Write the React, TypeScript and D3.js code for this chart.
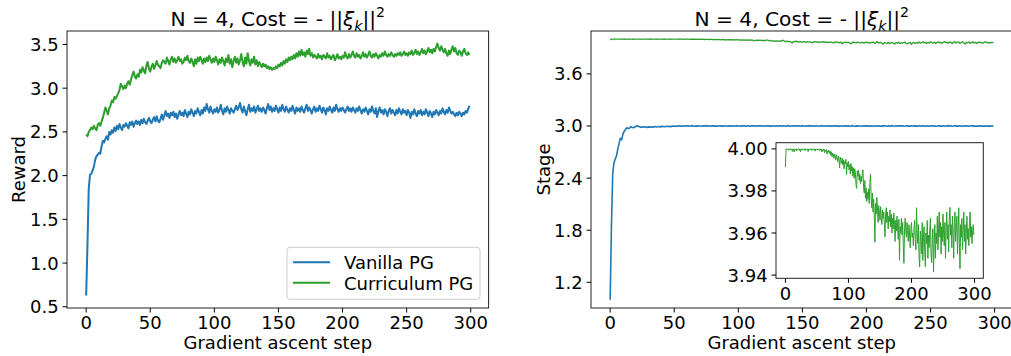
import React from "react";
import * as d3 from "d3";

// ---------------- DATA ----------------
const vanillaReward = [
  0.63, 1.20, 1.85, 2.01, 2.02, 2.06, 2.10, 2.18, 2.22, 2.24,
  2.26, 2.25, 2.33, 2.40, 2.38, 2.42, 2.45, 2.41, 2.50, 2.47,
  2.52, 2.49, 2.55, 2.51, 2.57, 2.53, 2.59, 2.55, 2.52, 2.58,
  2.56, 2.60, 2.57, 2.54, 2.61, 2.58, 2.62, 2.56, 2.60, 2.63,
  2.59, 2.62, 2.58, 2.64, 2.60, 2.65, 2.61, 2.59, 2.63, 2.66,
  2.62, 2.60, 2.64, 2.67, 2.62, 2.68, 2.63, 2.61, 2.65, 2.70,
  2.64, 2.69, 2.74, 2.68, 2.71, 2.66, 2.72, 2.69, 2.73, 2.67,
  2.71, 2.65, 2.70, 2.74, 2.69, 2.72, 2.68, 2.75, 2.71, 2.67,
  2.73, 2.70, 2.76, 2.72, 2.68, 2.74, 2.71, 2.77, 2.73, 2.69,
  2.75, 2.71, 2.78, 2.74, 2.82, 2.76, 2.72, 2.79, 2.74, 2.71,
  2.76, 2.73, 2.78, 2.72, 2.75, 2.81, 2.74, 2.70, 2.77, 2.73,
  2.79, 2.75, 2.71, 2.77, 2.74, 2.72, 2.76, 2.80, 2.75, 2.78,
  2.83, 2.76, 2.72, 2.79, 2.74, 2.69, 2.76, 2.81, 2.73, 2.77,
  2.74, 2.79, 2.72, 2.76, 2.80, 2.74, 2.77, 2.73, 2.78, 2.75,
  2.71, 2.77, 2.82, 2.75, 2.79, 2.73, 2.77, 2.74, 2.80, 2.76,
  2.72, 2.78, 2.74, 2.81, 2.76, 2.73, 2.79, 2.75, 2.72, 2.77,
  2.74, 2.80, 2.75, 2.71, 2.78, 2.74, 2.77, 2.73, 2.79, 2.75,
  2.72, 2.77, 2.81, 2.74, 2.78, 2.75, 2.71, 2.76, 2.79, 2.73,
  2.77, 2.74, 2.80, 2.76, 2.72, 2.78, 2.75, 2.70, 2.77, 2.74,
  2.79, 2.75, 2.72, 2.78, 2.74, 2.81, 2.76, 2.73, 2.77, 2.74,
  2.78, 2.75, 2.72, 2.76, 2.79, 2.74, 2.77, 2.73, 2.78, 2.75,
  2.72, 2.77, 2.74, 2.79, 2.75, 2.71, 2.76, 2.73, 2.78, 2.74,
  2.70, 2.76, 2.73, 2.79, 2.74, 2.71, 2.77, 2.67, 2.74, 2.78,
  2.72, 2.75, 2.70, 2.76, 2.73, 2.68, 2.74, 2.77, 2.71, 2.75,
  2.72, 2.69, 2.75, 2.71, 2.77, 2.73, 2.70, 2.76, 2.72, 2.74,
  2.69, 2.75, 2.72, 2.66, 2.73, 2.70, 2.76, 2.71, 2.68, 2.74,
  2.71, 2.75, 2.69, 2.73, 2.70, 2.76, 2.72, 2.68, 2.74, 2.71,
  2.67, 2.73, 2.70, 2.75, 2.72, 2.69, 2.74, 2.71, 2.77, 2.73,
  2.70, 2.75, 2.72, 2.78, 2.74, 2.71, 2.73, 2.70, 2.68, 2.72,
  2.69, 2.73, 2.71, 2.68, 2.72, 2.70, 2.74, 2.72, 2.76, 2.80,
];

const curriculumReward = [
  2.47, 2.45, 2.50, 2.52, 2.55, 2.53, 2.57, 2.54, 2.52, 2.58,
  2.60, 2.57, 2.62, 2.66, 2.72, 2.78, 2.74, 2.70, 2.77, 2.80,
  2.86, 2.84, 2.90, 2.88, 2.91, 2.94, 2.98, 3.05, 3.02, 2.99,
  3.03, 3.00, 3.05, 3.08, 3.04, 3.10, 3.15, 3.19, 3.13, 3.11,
  3.16, 3.13, 3.21, 3.18, 3.24, 3.20, 3.17, 3.26, 3.30, 3.22,
  3.19, 3.25, 3.28, 3.22, 3.26, 3.31, 3.27, 3.25, 3.23, 3.29,
  3.32, 3.30, 3.28, 3.35, 3.31, 3.27, 3.33, 3.36, 3.30, 3.34,
  3.29, 3.32, 3.36, 3.31, 3.33, 3.28, 3.30, 3.35, 3.32, 3.37,
  3.31, 3.29, 3.34, 3.30, 3.25, 3.33, 3.28, 3.35, 3.31, 3.36,
  3.32, 3.28, 3.34, 3.30, 3.35, 3.31, 3.37, 3.33, 3.29, 3.34,
  3.30, 3.36, 3.32, 3.27, 3.33, 3.29, 3.35, 3.31, 3.26, 3.34,
  3.30, 3.38, 3.28, 3.33, 3.24, 3.31, 3.36, 3.29, 3.34, 3.27,
  3.32, 3.39, 3.30, 3.25, 3.35, 3.28, 3.40, 3.31, 3.26, 3.33,
  3.29, 3.36, 3.27, 3.32, 3.25, 3.30, 3.27, 3.24, 3.28, 3.25,
  3.27, 3.23, 3.25, 3.22, 3.24, 3.21, 3.23, 3.22, 3.25, 3.23,
  3.27, 3.25, 3.29, 3.26, 3.31, 3.28, 3.33, 3.30, 3.35, 3.32,
  3.36, 3.33, 3.38, 3.34, 3.40, 3.36, 3.42, 3.37, 3.44, 3.38,
  3.41, 3.36, 3.43, 3.39, 3.45, 3.37, 3.40, 3.35, 3.38, 3.36,
  3.34, 3.39, 3.35, 3.37, 3.33, 3.38, 3.36, 3.34, 3.40, 3.35,
  3.37, 3.33, 3.36, 3.38, 3.32, 3.35, 3.39, 3.34, 3.36, 3.33,
  3.37, 3.35, 3.41, 3.36, 3.34, 3.39, 3.35, 3.38, 3.42, 3.37,
  3.35, 3.40, 3.36, 3.38, 3.34, 3.37, 3.41, 3.36, 3.39, 3.35,
  3.38, 3.42, 3.37, 3.35, 3.39, 3.36, 3.40, 3.37, 3.34, 3.38,
  3.36, 3.40, 3.37, 3.42, 3.38, 3.36, 3.39, 3.37, 3.41, 3.38,
  3.36, 3.39, 3.37, 3.40, 3.38, 3.41, 3.37, 3.39, 3.42, 3.38,
  3.40, 3.37, 3.41, 3.39, 3.43, 3.38, 3.40, 3.44, 3.39, 3.42,
  3.38, 3.41, 3.45, 3.40, 3.43, 3.39, 3.42, 3.46, 3.41, 3.44,
  3.40, 3.45, 3.42, 3.47, 3.51, 3.46, 3.43, 3.48, 3.44, 3.41,
  3.45, 3.40, 3.37, 3.43, 3.39, 3.44, 3.48, 3.42, 3.46, 3.40,
  3.38, 3.43, 3.41, 3.37, 3.42, 3.45, 3.40, 3.38, 3.41, 3.38,
];

const vanillaStage = [
  1.00, 1.85, 2.45, 2.58, 2.62, 2.66, 2.74, 2.80, 2.86, 2.84,
  2.91, 2.94, 2.96, 2.98, 2.97, 2.975, 2.99, 2.985, 2.98, 2.985,
  2.995, 3.002, 2.996, 2.99, 2.986, 2.99, 2.985, 2.99, 2.988, 2.984,
  2.99, 2.987, 2.992, 2.986, 2.99, 2.993, 2.988, 2.991, 2.995, 2.99,
  2.993, 2.996, 2.992, 2.995, 2.998, 2.994, 2.997, 2.993, 2.996, 2.999,
  2.997, 3.000, 2.996, 2.999, 3.002, 2.998, 3.001, 2.997, 3.000, 3.003,
  2.999, 3.002, 2.998, 3.001, 3.004, 3.000, 2.997, 3.001, 2.999, 3.003,
  3.000, 2.998, 3.002, 2.999, 3.001, 3.004, 2.999, 3.002, 2.998, 3.001,
  3.003, 2.999, 3.001, 2.998, 3.002, 3.000, 3.004, 2.999, 3.001, 2.997,
  3.002, 3.000, 2.998, 3.003, 3.001, 2.999, 3.002, 2.998, 3.001, 3.004,
  3.000, 2.998, 3.002, 2.999, 3.003, 3.001, 2.998, 3.002, 3.000, 2.997,
  3.001, 3.004, 2.999, 3.002, 2.998, 3.001, 3.003, 2.999, 3.002, 3.000,
  2.998, 3.002, 3.000, 3.004, 2.999, 3.001, 2.998, 3.003, 3.000, 2.999,
  3.002, 2.998, 3.001, 3.003, 2.999, 3.002, 3.000, 2.997, 3.001, 3.004,
  3.000, 2.998, 3.002, 2.999, 3.001, 3.003, 2.999, 3.002, 2.998, 3.001,
  3.003, 3.000, 2.998, 3.002, 2.999, 3.004, 3.001, 2.998, 3.002, 3.000,
  2.999, 3.003, 3.000, 2.998, 3.001, 3.004, 2.999, 3.002, 2.998, 3.001,
  3.003, 2.999, 3.001, 2.997, 3.002, 3.000, 3.003, 2.999, 3.001, 2.998,
  3.002, 3.000, 2.998, 3.003, 3.001, 2.999, 3.002, 2.998, 3.001, 3.004,
  3.000, 2.997, 3.001, 2.999, 3.003, 3.000, 2.998, 3.002, 2.999, 3.001,
  3.003, 2.999, 3.001, 2.998, 3.002, 3.000, 2.997, 3.001, 3.003, 2.999,
  3.002, 2.998, 3.001, 2.999, 3.003, 3.000, 2.998, 3.002, 2.999, 3.001,
  3.004, 3.000, 2.998, 3.002, 2.999, 3.001, 3.003, 2.999, 3.002, 2.998,
  3.000, 3.003, 2.999, 3.001, 2.997, 3.002, 3.000, 3.003, 2.999, 3.001,
  2.998, 3.002, 3.000, 2.999, 3.003, 3.001, 2.998, 3.002, 3.000, 2.997,
  3.001, 3.003, 2.999, 3.002, 2.998, 3.000, 3.003, 2.999, 3.001, 2.998,
  3.002, 3.000, 2.997, 3.001, 3.004, 2.999, 3.002, 2.998, 3.000, 3.003,
  2.999, 3.001, 2.998, 3.002, 3.000, 2.997, 3.001, 3.003, 2.999, 3.002,
  2.998, 3.000, 3.002, 2.999, 3.001, 2.997, 3.000, 2.998, 3.002, 2.999,
  3.001, 2.998, 3.000, 2.997, 3.002, 2.999, 3.001, 2.998, 3.003, 3.001,
];

const curriculumStage = [
  3.9914, 4.0000, 4.0000, 3.9996, 4.0000, 3.9993, 4.0000, 3.9998, 4.0000, 3.9995,
  4.0000, 3.9988, 4.0000, 3.9997, 3.9985, 4.0000, 3.9996, 4.0000, 3.9990, 4.0000,
  3.9997, 4.0000, 3.9993, 4.0000, 3.9986, 3.9999, 4.0000, 3.9994, 4.0000, 3.9997,
  4.0000, 3.9991, 4.0000, 3.9996, 4.0000, 3.9998, 3.9987, 4.0000, 3.9995, 4.0000,
  3.9998, 4.0000, 3.9992, 4.0000, 3.9996, 4.0000, 3.9999, 3.9989, 4.0000, 3.9997,
  4.0000, 3.9994, 4.0000, 3.9998, 3.9990, 4.0000, 3.9996, 4.0000, 3.9985, 3.9997,
  3.9993, 3.9999, 3.9982, 3.9995, 3.9988, 3.9997, 3.9975, 3.9990, 3.9984, 3.9994,
  3.9978, 3.9989, 3.9970, 3.9986, 3.9962, 3.9980, 3.9972, 3.9955, 3.9976, 3.9966,
  3.9948, 3.9972, 3.9958, 3.9940, 3.9965, 3.9952, 3.9910, 3.9960, 3.9945, 3.9930,
  3.9956, 3.9925, 3.9948, 3.9905, 3.9940, 3.9930, 3.9950, 3.9878, 3.9935, 3.9915,
  3.9940, 3.9900, 3.9925, 3.9880, 3.9930, 3.9895, 3.9915, 3.9870, 3.9910, 3.9860,
  3.9905, 3.9885, 3.9830, 3.9812, 3.9895, 3.9870, 3.9900, 3.9850, 3.9880, 3.9835,
  3.9870, 3.9845, 3.9880, 3.9900, 3.9820, 3.9790, 3.9850, 3.9765, 3.9815, 3.9750,
  3.9795, 3.9760, 3.9810, 3.9740, 3.9835, 3.9880, 3.9770, 3.9720, 3.9790, 3.9700,
  3.9760, 3.9680, 3.9556, 3.9740, 3.9690, 3.9770, 3.9720, 3.9650, 3.9730, 3.9700,
  3.9660, 3.9725, 3.9680, 3.9640, 3.9710, 3.9670, 3.9700, 3.9640, 3.9582, 3.9690,
  3.9720, 3.9650, 3.9700, 3.9620, 3.9680, 3.9655, 3.9710, 3.9630, 3.9690, 3.9600,
  3.9670, 3.9620, 3.9695, 3.9640, 3.9560, 3.9660, 3.9610, 3.9680, 3.9625, 3.9570,
  3.9665, 3.9470, 3.9630, 3.9600, 3.9670, 3.9590, 3.9650, 3.9540, 3.9456, 3.9620,
  3.9670, 3.9610, 3.9580, 3.9650, 3.9600, 3.9560, 3.9640, 3.9590, 3.9530, 3.9620,
  3.9650, 3.9580, 3.9600, 3.9540, 3.9620, 3.9660, 3.9570, 3.9520, 3.9720, 3.9600,
  3.9550, 3.9640, 3.9490, 3.9438, 3.9610, 3.9560, 3.9500, 3.9650, 3.9470, 3.9580,
  3.9630, 3.9520, 3.9440, 3.9600, 3.9550, 3.9660, 3.9480, 3.9590, 3.9530, 3.9610,
  3.9670, 3.9500, 3.9460, 3.9570, 3.9620, 3.9414, 3.9550, 3.9640, 3.9480, 3.9600,
  3.9550, 3.9680, 3.9520, 3.9620, 3.9700, 3.9580, 3.9650, 3.9500, 3.9630, 3.9560,
  3.9690, 3.9600, 3.9540, 3.9650, 3.9480, 3.9620, 3.9700, 3.9570, 3.9640, 3.9510,
  3.9660, 3.9722, 3.9590, 3.9640, 3.9530, 3.9680, 3.9600, 3.9480, 3.9650, 3.9700,
  3.9560, 3.9620, 3.9680, 3.9500, 3.9610, 3.9720, 3.9550, 3.9430, 3.9640, 3.9580,
  3.9670, 3.9520, 3.9610, 3.9700, 3.9560, 3.9640, 3.9500, 3.9600, 3.9680, 3.9570,
  3.9620, 3.9540, 3.9650, 3.9700, 3.9580, 3.9630, 3.9550, 3.9610, 3.9640, 3.9590,
];

const stepTicks = [0, 50, 100, 150, 200, 250, 300];
const rewardTicks = [0.5, 1.0, 1.5, 2.0, 2.5, 3.0, 3.5];
const rewardTickLabels = ["0.5", "1.0", "1.5", "2.0", "2.5", "3.0", "3.5"];
const stageTicks = [1.2, 1.8, 2.4, 3.0, 3.6];
const stageTickLabels = ["1.2", "1.8", "2.4", "3.0", "3.6"];
const insetXTicks = [0, 100, 200, 300];
const insetYTicks = [3.94, 3.96, 3.98, 4.0];
const insetYTickLabels = ["3.94", "3.96", "3.98", "4.00"];
const seriesNames = ["Vanilla PG", "Curriculum PG"];
const stageDomain = [0.904, 4.094];

const BLUE = "#1f77b4";
const GREEN = "#2ca02c";
const FONT = "DejaVu Sans, Verdana, sans-serif";
const FS = 18;
const TFS = 20.2;
const TICK = 4.5;
const PAD = 3.8;

function marginDomain(vals: number[], frac = 0.05): [number, number] {
  const [lo, hi] = d3.extent(vals) as [number, number];
  const m = (hi - lo) * frac;
  return [lo - m, hi + m];
}

const stepDomain = marginDomain([0, vanillaReward.length - 1]);

function Title({ cx }: { cx: number }) {
  return (
    <text x={cx} y={26} textAnchor="middle" fontFamily={FONT} fontSize={TFS} fill="#000">
      <tspan>N = 4, Cost = - ||</tspan>
      <tspan fontStyle="italic">ξ</tspan>
      <tspan fontStyle="italic" fontSize={TFS * 0.7} dy={4.5}>k</tspan>
      <tspan dy={-4.5}>||</tspan>
      <tspan fontSize={TFS * 0.7} dy={-9}>2</tspan>
    </text>
  );
}

function XAxis({ x, y0, ticks, labels }: { x: any; y0: number; ticks: number[]; labels?: string[] }) {
  return (
    <g>
      {ticks.map((t, i) => (
        <g key={i}>
          <line x1={x(t)} x2={x(t)} y1={y0} y2={y0 + TICK} stroke="#000" strokeWidth={1} />
          <text x={x(t)} y={y0 + TICK + PAD + 13} textAnchor="middle" fontFamily={FONT} fontSize={FS}>
            {labels ? labels[i] : String(t)}
          </text>
        </g>
      ))}
    </g>
  );
}

function YAxis({ y, x0, ticks, labels }: { y: any; x0: number; ticks: number[]; labels: string[] }) {
  return (
    <g>
      {ticks.map((t, i) => (
        <g key={i}>
          <line x1={x0 - TICK} x2={x0} y1={y(t)} y2={y(t)} stroke="#000" strokeWidth={1} />
          <text x={x0 - TICK - PAD} y={y(t) + 6.5} textAnchor="end" fontFamily={FONT} fontSize={FS}>
            {labels[i]}
          </text>
        </g>
      ))}
    </g>
  );
}

export default function App() {
  // Left panel
  const L = { x0: 67, x1: 488.6, y0: 31, y1: 308 };
  const xL = d3.scaleLinear().domain(stepDomain).range([L.x0, L.x1]);
  const yL = d3
    .scaleLinear()
    .domain(marginDomain([...vanillaReward, ...curriculumReward]))
    .range([L.y1, L.y0]);
  const lineL = d3
    .line<number>()
    .x((_, i) => xL(i))
    .y((d) => yL(d));

  // Right panel
  const R = { x0: 591, x1: 1012.5, y0: 31, y1: 308 };
  const xR = d3.scaleLinear().domain(stepDomain).range([R.x0, R.x1]);
  const yR = d3.scaleLinear().domain(stageDomain).range([R.y1, R.y0]);
  const lineR = d3
    .line<number>()
    .x((_, i) => xR(i))
    .y((d) => yR(d));

  // Inset
  const I = { x0: 776, x1: 983.3, y0: 142.7, y1: 278.3 };
  const xI = d3.scaleLinear().domain(stepDomain).range([I.x0, I.x1]);
  const yI = d3.scaleLinear().domain(marginDomain(curriculumStage)).range([I.y1, I.y0]);
  const lineI = d3
    .line<number>()
    .x((_, i) => xI(i))
    .y((d) => yI(d));

  const lg = { x: 287, y: 247.3, w: 193, h: 52 };

  return (
    <svg
      width={1011}
      height={356}
      style={{ position: "absolute", left: 0, top: 0, background: "#fff" }}
      fontFamily={FONT}
    >
      <rect x={0} y={0} width={1011} height={356} fill="#fff" />
      <defs>
        <clipPath id="clipL">
          <rect x={L.x0} y={L.y0} width={L.x1 - L.x0} height={L.y1 - L.y0} />
        </clipPath>
        <clipPath id="clipR">
          <rect x={R.x0} y={R.y0} width={R.x1 - R.x0} height={R.y1 - R.y0} />
        </clipPath>
        <clipPath id="clipI">
          <rect x={I.x0} y={I.y0} width={I.x1 - I.x0} height={I.y1 - I.y0} />
        </clipPath>
      </defs>

      {/* LEFT PANEL */}
      <Title cx={(L.x0 + L.x1) / 2} />
      <g clipPath="url(#clipL)">
        <path d={lineL(vanillaReward) || ""} fill="none" stroke={BLUE} strokeWidth={2} strokeLinejoin="round" />
        <path d={lineL(curriculumReward) || ""} fill="none" stroke={GREEN} strokeWidth={2} strokeLinejoin="round" />
      </g>
      <rect x={L.x0} y={L.y0} width={L.x1 - L.x0} height={L.y1 - L.y0} fill="none" stroke="#222" strokeWidth={1} />
      <XAxis x={xL} y0={L.y1} ticks={stepTicks} />
      <YAxis y={yL} x0={L.x0} ticks={rewardTicks} labels={rewardTickLabels} />
      <text x={(L.x0 + L.x1) / 2} y={348.5} textAnchor="middle" fontFamily={FONT} fontSize={FS}>
        Gradient ascent step
      </text>
      <text
        transform={`translate(25,${(L.y0 + L.y1) / 2}) rotate(-90)`}
        textAnchor="middle"
        fontFamily={FONT}
        fontSize={FS}
      >
        Reward
      </text>

      {/* Legend */}
      <g>
        <rect x={lg.x} y={lg.y} width={lg.w} height={lg.h} rx={3} fill="#fff" fillOpacity={0.8} stroke="#cccccc" strokeWidth={1} />
        {seriesNames.map((name, i) => (
          <g key={name}>
            <line
              x1={lg.x + 6}
              x2={lg.x + 43}
              y1={262.3 + i * 20.5}
              y2={262.3 + i * 20.5}
              stroke={i === 0 ? BLUE : GREEN}
              strokeWidth={2}
            />
            <text x={lg.x + 57} y={269 + i * 20.7} fontFamily={FONT} fontSize={FS}>
              {name}
            </text>
          </g>
        ))}
      </g>

      {/* RIGHT PANEL */}
      <Title cx={(R.x0 + R.x1) / 2} />
      <g clipPath="url(#clipR)">
        <path d={lineR(vanillaStage) || ""} fill="none" stroke={BLUE} strokeWidth={1.6} strokeLinejoin="round" />
        <path d={lineR(curriculumStage) || ""} fill="none" stroke={GREEN} strokeWidth={1.3} strokeLinejoin="round" />
      </g>
      <rect x={R.x0} y={R.y0} width={R.x1 - R.x0} height={R.y1 - R.y0} fill="none" stroke="#222" strokeWidth={1} />
      <XAxis x={xR} y0={R.y1} ticks={stepTicks} />
      <YAxis y={yR} x0={R.x0} ticks={stageTicks} labels={stageTickLabels} />
      <text x={(R.x0 + R.x1) / 2} y={348.5} textAnchor="middle" fontFamily={FONT} fontSize={FS}>
        Gradient ascent step
      </text>
      <text
        transform={`translate(550,${(R.y0 + R.y1) / 2}) rotate(-90)`}
        textAnchor="middle"
        fontFamily={FONT}
        fontSize={FS}
      >
        Stage
      </text>

      {/* INSET */}
      <rect x={I.x0} y={I.y0} width={I.x1 - I.x0} height={I.y1 - I.y0} fill="#fff" />
      <g clipPath="url(#clipI)">
        <path d={lineI(curriculumStage) || ""} fill="none" stroke={GREEN} strokeWidth={1} strokeLinejoin="round" />
      </g>
      <rect x={I.x0} y={I.y0} width={I.x1 - I.x0} height={I.y1 - I.y0} fill="none" stroke="#222" strokeWidth={1} />
      <XAxis x={xI} y0={I.y1} ticks={insetXTicks} />
      <YAxis y={yI} x0={I.x0} ticks={insetYTicks} labels={insetYTickLabels} />
    </svg>
  );
}
